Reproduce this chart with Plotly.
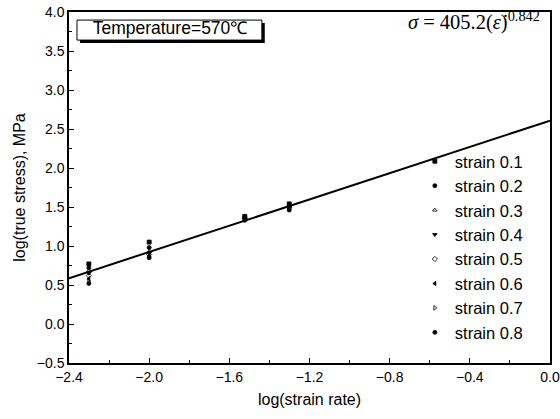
import plotly.graph_objects as go

# ---- data ----
log_strain_rate = [-2.301, -2.0, -1.523, -1.301]
strain_labels = ["strain 0.1", "strain 0.2", "strain 0.3", "strain 0.4",
                 "strain 0.5", "strain 0.6", "strain 0.7", "strain 0.8"]
s01 = [0.77, 1.05, 1.38, 1.54]
s02 = [0.72, 0.98, 1.37, 1.52]
s03 = [0.68, 0.93, 1.36, 1.51]
s04 = [0.65, 0.91, 1.36, 1.50]
s05 = [0.62, 0.89, 1.35, 1.49]
s06 = [0.58, 0.87, 1.35, 1.48]
s07 = [0.55, 0.86, 1.34, 1.47]
s08 = [0.52, 0.85, 1.33, 1.46]
series = [s01, s02, s03, s04, s05, s06, s07, s08]
symbols = ["square", "circle", "triangle-up-open", "triangle-down",
           "diamond-open", "triangle-left", "triangle-right-open", "circle"]

# fitted line: log(sigma) = log10(405.2) + 0.842*log(strain rate)
fit_x = [-2.4, 0.0]
fit_y = [0.587, 2.608]

# text labels
temp_label = "Temperature=570\u2103"
eq_label = "<i>\u03c3</i> = 405.2(<i>\u03b5\u0307</i>)<sup>0.842</sup>"

fig = go.Figure()
for name, vals, sym in zip(strain_labels, series, symbols):
    fig.add_trace(go.Scatter(
        x=log_strain_rate, y=vals, mode="markers", name=name,
        marker=dict(symbol=sym, size=4, color="black",
                    line=dict(width=0.8, color="black"))))
fig.add_trace(go.Scatter(x=fit_x, y=fit_y, mode="lines", showlegend=False,
                         line=dict(color="black", width=2)))

axis_common = dict(showline=True, linecolor="black", linewidth=1.5, mirror=True,
                   ticks="inside", ticklen=5, tickwidth=1, tickcolor="black",
                   showgrid=False, zeroline=False, automargin=False,
                   ticklabeloverflow="allow",
                   tickfont=dict(family="Liberation Sans", size=14, color="black"))

fig.update_xaxes(range=[-2.4, 0.0], tick0=-2.4, dtick=0.4, tickformat=".1f",
                 minor=dict(ticks="inside", ticklen=3, dtick=0.2, tick0=-2.4,
                            tickcolor="black"),
                 title=dict(text="log(strain rate)", standoff=10,
                            font=dict(family="Liberation Sans", size=16, color="black")),
                 **axis_common)
fig.update_yaxes(range=[-0.5, 4.0], tick0=-0.5, dtick=0.5, tickformat=".1f",
                 minor=dict(ticks="inside", ticklen=3, dtick=0.25, tick0=-0.5,
                            tickcolor="black"),
                 title=dict(text="log(true stress), MPa", standoff=7,
                            font=dict(family="Liberation Sans", size=16, color="black")),
                 **axis_common)

# Temperature box with shadow
fig.add_shape(type="rect", xref="paper", yref="paper", layer="below",
              x0=0.023, x1=0.407, y0=0.912, y1=0.969,
              fillcolor="black", line=dict(width=0))
fig.add_shape(type="rect", xref="paper", yref="paper", layer="below",
              x0=0.0166, x1=0.401, y0=0.920, y1=0.977,
              fillcolor="white", line=dict(color="black", width=1))

fig.add_trace(go.Scatter(x=[-1.896], y=[3.77], mode="text", text=[temp_label],
                         textposition="middle center", showlegend=False,
                         cliponaxis=False, hoverinfo="skip",
                         textfont=dict(family="Liberation Sans", size=17.5, color="black")))
fig.add_trace(go.Scatter(x=[-0.05], y=[3.846], mode="text", text=[eq_label],
                         textposition="middle left", showlegend=False,
                         cliponaxis=False, hoverinfo="skip",
                         textfont=dict(family="Liberation Serif", size=20.5, color="black")))

fig.update_layout(
    width=560, height=419,
    margin=dict(l=69, r=10, t=12, b=56),
    paper_bgcolor="white", plot_bgcolor="white",
    legend=dict(x=0.719, y=0.624, xanchor="left", yanchor="top",
                bgcolor="rgba(0,0,0,0)", itemwidth=30,
                font=dict(family="Liberation Sans", size=16.5, color="black")),
)

fig.write_html("out.html", config={"displayModeBar": False},
               post_script="document.body.style.margin='0';document.body.style.overflow='hidden';")
